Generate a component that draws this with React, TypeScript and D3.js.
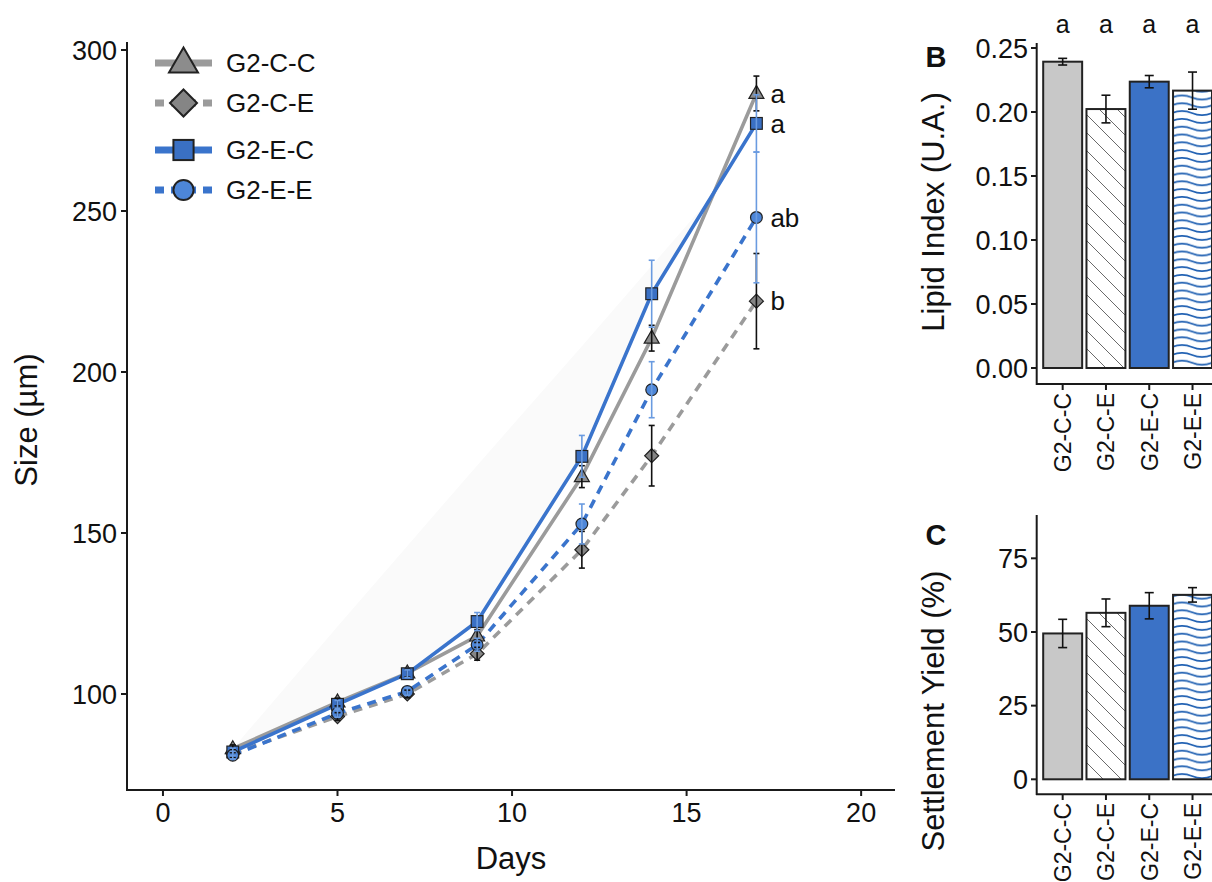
import React from "react";
import * as d3 from "d3";

// ---------------- DATA ----------------
const days = [2, 5, 7, 9, 12, 14, 17];
const groups = ["G2-C-C", "G2-C-E", "G2-E-C", "G2-E-E"];

const sizeCC = [83, 97.5, 106.5, 118, 167.5, 210.5, 286.5];
const errCC = [1.2, 1.2, 1.2, 2, 3.4, 4, 5.4];
const sizeCE = [81.5, 93, 100, 112.5, 144.8, 174, 222];
const errCE = [1.2, 1.2, 1.2, 2, 5.7, 9.4, 14.8];
const sizeEC = [82, 96.8, 106.3, 122.5, 173.8, 224.3, 277.2];
const errEC = [1.2, 1.2, 1.2, 2.8, 6.5, 10.4, 8.9];
const sizeEE = [81, 94, 100.8, 115.3, 152.8, 194.5, 248];
const errEE = [1.2, 1.2, 1.2, 2, 6.2, 8.7, 20.3];
const letters17 = ["a", "b", "a", "ab"];

// faint background ribbon
const ribbonDays = [2, 5, 7, 9, 12, 14, 16];
const ribbonLow = [82, 96.8, 106.3, 122.5, 173.8, 224.3, 258];
const ribbonHigh = [83, 121, 146, 171, 208, 233, 258];

const xTicks = [0, 5, 10, 15, 20];
const yTicks = [100, 150, 200, 250, 300];

const lipid = [0.2393, 0.2023, 0.2237, 0.2167];
const lipidErr = [0.0026, 0.0108, 0.0048, 0.0145];
const lipidLetters = ["a", "a", "a", "a"];
const lipidTicks = [0, 0.05, 0.1, 0.15, 0.2, 0.25];

const settle = [49.5, 56.5, 58.9, 62.6];
const settleErr = [4.8, 4.7, 4.45, 2.45];
const settleTicks = [0, 25, 50, 75];

// ---------------- STYLES ----------------
const GRAY = "#9b9b9b";
const BLUE = "#3a74cc";
const FONT = "'Liberation Sans', Arial, Helvetica, sans-serif";
const AXIS = "#1a1a1a";

const series = [
  { name: "G2-C-C", v: sizeCC, e: errCC, color: GRAY, dash: false, shape: "tri", fill: "#8c8c8c", ecol: "#111" },
  { name: "G2-C-E", v: sizeCE, e: errCE, color: GRAY, dash: true, shape: "dia", fill: "#858585", ecol: "#111" },
  { name: "G2-E-C", v: sizeEC, e: errEC, color: BLUE, dash: false, shape: "sq", fill: "#3a70c4", ecol: "#6a9be0" },
  { name: "G2-E-E", v: sizeEE, e: errEE, color: BLUE, dash: true, shape: "cir", fill: "#4d86d8", ecol: "#6a9be0" },
];

function Marker({ shape, cx, cy, s, fill, sw }: any) {
  if (shape === "tri") {
    const h = s * 0.866;
    const p = `M${cx},${cy - h * 0.62} L${cx + s / 2},${cy + h * 0.38} L${cx - s / 2},${cy + h * 0.38} Z`;
    return <path d={p} fill={fill} stroke="#222" strokeWidth={sw} />;
  }
  if (shape === "dia") {
    const r = s / 2;
    const p = `M${cx},${cy - r} L${cx + r},${cy} L${cx},${cy + r} L${cx - r},${cy} Z`;
    return <path d={p} fill={fill} stroke="#222" strokeWidth={sw} />;
  }
  if (shape === "sq") {
    const r = s * 0.42;
    return <rect x={cx - r} y={cy - r} width={2 * r} height={2 * r} fill={fill} stroke="#222" strokeWidth={sw} />;
  }
  return <circle cx={cx} cy={cy} r={s * 0.42} fill={fill} stroke="#222" strokeWidth={sw} />;
}

export default function App() {
  // main panel scales
  const x = d3.scaleLinear().domain([-1.03, 20.97]).range([127, 895]);
  const y = d3.scaleLinear().domain([70.19, 302.48]).range([790, 42]);

  const line = d3
    .line<number>()
    .x((_, i) => x(days[i]))
    .y((d) => y(d));

  const ribbon = d3
    .area<number>()
    .x((d) => x(d))
    .y0((_, i) => y(ribbonLow[i]))
    .y1((_, i) => y(ribbonHigh[i]));

  // panel B scales
  const xb = d3.scaleLinear().domain([0.4, 4.6]).range([1036.7, 1218.5]);
  const yb = d3.scaleLinear().domain([-0.0125, 0.2539]).range([384, 43]);
  // panel C scales
  const yc = d3.scaleLinear().domain([-5.09, 89.7]).range([794.3, 515]);
  const bw = (xb(1.45) - xb(0.55));

  const barFill = ["#c8c8c8", "url(#hatch)", "#3b72c6", "url(#wave)"];

  const bars = (vals: number[], errs: number[], ys: any) => (
    <g>
      {vals.map((v, i) => {
        const cx = xb(i + 1);
        return (
          <g key={i}>
            <rect x={cx - bw / 2} y={ys(v)} width={bw} height={ys(0) - ys(v)} fill={i === 3 || i === 1 ? "#fff" : barFill[i]} stroke="none" />
            {(i === 1 || i === 3) && (
              <rect x={cx - bw / 2} y={ys(v)} width={bw} height={ys(0) - ys(v)} fill={barFill[i]} stroke="none" />
            )}
            <rect x={cx - bw / 2} y={ys(v)} width={bw} height={ys(0) - ys(v)} fill="none" stroke="#222" strokeWidth={2} />
            <line x1={cx} x2={cx} y1={ys(v - errs[i])} y2={ys(v + errs[i])} stroke="#111" strokeWidth={1.6} />
            <line x1={cx - 4.5} x2={cx + 4.5} y1={ys(v - errs[i])} y2={ys(v - errs[i])} stroke="#111" strokeWidth={1.6} />
            <line x1={cx - 4.5} x2={cx + 4.5} y1={ys(v + errs[i])} y2={ys(v + errs[i])} stroke="#111" strokeWidth={1.6} />
          </g>
        );
      })}
    </g>
  );

  return (
    <div style={{ position: "absolute", left: 0, top: 0 }}>
      <svg width={1212} height={882} style={{ display: "block", fontFamily: FONT }}>
        <defs>
          <pattern id="hatch" patternUnits="userSpaceOnUse" width={18} height={18}>
            <path d="M-4.5,-4.5 L22.5,22.5 M-4.5,13.5 L4.5,22.5 M13.5,-4.5 L22.5,4.5" stroke="#6a6a6a" strokeWidth={1} />
          </pattern>
          <pattern id="wave" patternUnits="userSpaceOnUse" x={1172} y={0} width={40} height={7.8}>
            <path d="M0,3.9 C6.7,1.1 13.3,1.1 20,3.9 C26.7,6.7 33.3,6.7 40,3.9" fill="none" stroke="#1a5cb0" strokeWidth={1.7} />
          </pattern>
          <clipPath id="clipB">
            <rect x={1030} y={0} width={182} height={882} />
          </clipPath>
        </defs>
        <rect width={1212} height={882} fill="#fff" />

        {/* ===== main panel ===== */}
        <path d={ribbon(ribbonDays) || ""} fill="#fafafa" />
        {series.map((s) => (
          <path
            key={s.name}
            d={line(s.v) || ""}
            fill="none"
            stroke={s.color}
            strokeWidth={3.6}
            strokeDasharray={s.dash ? "9,7" : undefined}
          />
        ))}
        {series.map((s) =>
          s.v.map((v, i) => (
            <Marker key={s.name + i} shape={s.shape} cx={x(days[i])} cy={y(v)} s={s.shape === "tri" ? 15 : 14} fill={s.fill} sw={1.2} />
          ))
        )}
        {series.map((s) =>
          s.v.map((v, i) => {
            const cx = x(days[i]);
            const y1 = y(v - s.e[i]);
            const y2 = y(v + s.e[i]);
            return (
              <g key={"e" + s.name + i} stroke={s.ecol} strokeWidth={1.6}>
                <line x1={cx} x2={cx} y1={y1} y2={y2} />
                <line x1={cx - 3} x2={cx + 3} y1={y1} y2={y1} />
                <line x1={cx - 3} x2={cx + 3} y1={y2} y2={y2} />
              </g>
            );
          })
        )}
        {series.map((s, k) => (
          <text key={"l" + k} x={x(17) + 14} y={y(s.v[6])} dy="0.35em" fontSize={26} fill="#111">
            {letters17[k]}
          </text>
        ))}

        {/* axes */}
        <line x1={127} x2={127} y1={42} y2={791} stroke={AXIS} strokeWidth={2} />
        <line x1={126} x2={895} y1={790} y2={790} stroke={AXIS} strokeWidth={2} />
        {yTicks.map((t) => (
          <g key={"yt" + t}>
            <line x1={121} x2={127} y1={y(t)} y2={y(t)} stroke={AXIS} strokeWidth={2} />
            <text x={117} y={y(t)} dy="0.36em" textAnchor="end" fontSize={27} fill="#111">
              {t}
            </text>
          </g>
        ))}
        {xTicks.map((t) => (
          <g key={"xt" + t}>
            <line x1={x(t)} x2={x(t)} y1={790} y2={796} stroke={AXIS} strokeWidth={2} />
            <text x={x(t)} y={822} textAnchor="middle" fontSize={27} fill="#111">
              {t}
            </text>
          </g>
        ))}
        <text x={511} y={869} textAnchor="middle" fontSize={31} fill="#111">Days</text>
        <text transform={`translate(37,420) rotate(-90)`} textAnchor="middle" fontSize={31} fill="#111">Size (µm)</text>

        {/* legend */}
        {series.map((s, k) => {
          const ly = [63, 103, 150, 190][k];
          return (
            <g key={"lg" + k}>
              <line x1={155} x2={212} y1={ly} y2={ly} stroke={s.color} strokeWidth={7} strokeDasharray={s.dash ? "9,7" : undefined} />
              <Marker shape={s.shape} cx={183.5} cy={ly} s={s.shape === "tri" ? 29 : s.shape === "dia" ? 27 : 24} fill={s.fill} sw={2} />
              <text x={226} y={ly} dy="0.36em" fontSize={26} fill="#111">{s.name}</text>
            </g>
          );
        })}

        {/* ===== panel B ===== */}
        <g clipPath="url(#clipB)">
          {bars(lipid, lipidErr, yb)}
          <line x1={1036} x2={1212} y1={384} y2={384} stroke={AXIS} strokeWidth={2} />
          {groups.map((g, i) => (
            <g key={"bx" + i}>
              <line x1={xb(i + 1)} x2={xb(i + 1)} y1={384} y2={390} stroke={AXIS} strokeWidth={2} />
              <text transform={`translate(${xb(i + 1)},393) rotate(-90)`} textAnchor="end" dy="0.36em" fontSize={23} fill="#111">{g}</text>
              <text x={xb(i + 1)} y={33} textAnchor="middle" fontSize={25} fill="#111">{lipidLetters[i]}</text>
            </g>
          ))}
        </g>
        <line x1={1036.7} x2={1036.7} y1={43} y2={385} stroke={AXIS} strokeWidth={2} />
        {lipidTicks.map((t) => (
          <g key={"byt" + t}>
            <line x1={1031} x2={1036.7} y1={yb(t)} y2={yb(t)} stroke={AXIS} strokeWidth={2} />
            <text x={1028} y={yb(t)} dy="0.36em" textAnchor="end" fontSize={27} fill="#111">{t.toFixed(2)}</text>
          </g>
        ))}
        <text x={936} y={67} textAnchor="middle" fontSize={29} fontWeight="bold" fill="#111">B</text>
        <text transform={`translate(944,212) rotate(-90)`} textAnchor="middle" fontSize={31} fill="#111">Lipid Index (U.A.)</text>

        {/* ===== panel C ===== */}
        <g clipPath="url(#clipB)">
          {bars(settle, settleErr, yc)}
          <line x1={1036} x2={1212} y1={794.3} y2={794.3} stroke={AXIS} strokeWidth={2} />
          {groups.map((g, i) => (
            <g key={"cx" + i}>
              <line x1={xb(i + 1)} x2={xb(i + 1)} y1={794.3} y2={800} stroke={AXIS} strokeWidth={2} />
              <text transform={`translate(${xb(i + 1)},803) rotate(-90)`} textAnchor="end" dy="0.36em" fontSize={23} fill="#111">{g}</text>
            </g>
          ))}
        </g>
        <line x1={1036.7} x2={1036.7} y1={515} y2={795} stroke={AXIS} strokeWidth={2} />
        {settleTicks.map((t) => (
          <g key={"cyt" + t}>
            <line x1={1031} x2={1036.7} y1={yc(t)} y2={yc(t)} stroke={AXIS} strokeWidth={2} />
            <text x={1028} y={yc(t)} dy="0.36em" textAnchor="end" fontSize={27} fill="#111">{t}</text>
          </g>
        ))}
        <text x={936} y={545} textAnchor="middle" fontSize={29} fontWeight="bold" fill="#111">C</text>
        <text transform={`translate(944,711) rotate(-90)`} textAnchor="middle" fontSize={31} fill="#111">Settlement Yield (%)</text>
      </svg>
    </div>
  );
}
